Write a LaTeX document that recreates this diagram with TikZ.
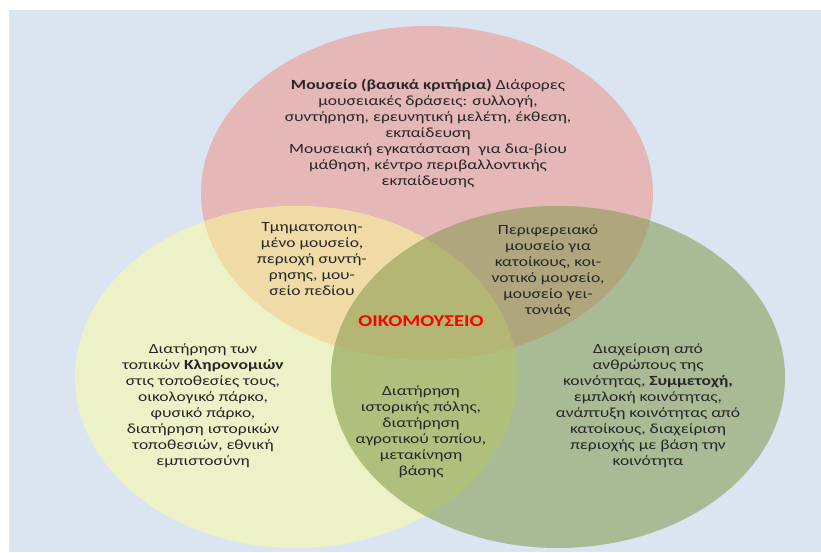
\documentclass[tikz,border=0pt]{standalone}
\usepackage{fontspec}
\setmainfont{Carlito}[FakeStretch=1.25]
\definecolor{bgblue}{RGB}{219,229,241}
\definecolor{cred}{RGB}{229,184,183}
\definecolor{cyel}{RGB}{236,241,199}
\definecolor{cgrn}{RGB}{169,187,148}
\definecolor{cry}{RGB}{240,219,167}
\definecolor{crg}{RGB}{176,166,125}
\definecolor{cyg}{RGB}{175,192,125}
\definecolor{cryg}{RGB}{180,183,115}
\begin{document}
\begin{tikzpicture}[x=1pt, y=-1pt, font=\fontsize{14}{16}\selectfont, line cap=round, line join=round,
  txt/.style={align=center, inner sep=0pt, text=black!85}]
	\useasboundingbox (0,0) rectangle (821,552);
	\fill[bgblue] (9,10) rectangle (821,552);
	\coordinate (R) at (427,193);
	\coordinate (Y) at (296,377);
	\coordinate (G) at (558,377);
	% the three circles
	\fill[cred] (R) ellipse [x radius=226, y radius=167];
	\fill[cyel] (Y) ellipse [x radius=221, y radius=171];
	\fill[cgrn] (G) ellipse [x radius=227, y radius=171];
	% overlaps
	\begin{scope}
		\clip (R) ellipse [x radius=226, y radius=167];
		\fill[cry] (Y) ellipse [x radius=221, y radius=171];
		\fill[crg] (G) ellipse [x radius=227, y radius=171];
	\end{scope}
	\begin{scope}
		\clip (Y) ellipse [x radius=221, y radius=171];
		\fill[cyg] (G) ellipse [x radius=227, y radius=171];
		\clip (G) ellipse [x radius=227, y radius=171];
		\fill[cryg] (R) ellipse [x radius=226, y radius=167];
	\end{scope}
	% texts
	\node[txt] (mus) at (428,133) {\textbf{Μουσείο (βασικά κριτήρια)} Διάφορες\\ μουσειακές δράσεις: συλλογή,\\ συντήρηση, ερευνητική μελέτη, έκθεση,\\ εκπαίδευση\\ Μουσειακή εγκατάσταση~ για δια-βίου\\ μάθηση, κέντρο περιβαλλοντικής\\ εκπαίδευσης};
	\node[txt] (tmi) at (312,259) {Τμηματοποιη-\\ μένο μουσείο,\\ περιοχή συντή-\\ ρησης, μου-\\ σείο πεδίου};
	\node[txt] (per) at (548,271) {Περιφερειακό\\ μουσείο για\\ κατοίκους, κοι-\\ νοτικό μουσείο,\\ μουσείο γει-\\ τονιάς};
	\node[txt, text=red, font=\fontsize{16.5}{18}\selectfont\bfseries] (oiko) at (421,321) {ΟΙΚΟΜΟΥΣΕΙΟ};
	\node[txt] (kle) at (203,406) {Διατήρηση των\\ τοπικών \textbf{Κληρονομιών}\\ στις τοποθεσίες τους,\\ οικολογικό πάρκο,\\ φυσικό πάρκο,\\ διατήρηση ιστορικών\\ τοποθεσιών, εθνική\\ εμπιστοσύνη};
	\node[txt] (koi) at (648,406) {Διαχείριση από\\ ανθρώπους της\\ κοινότητας, \textbf{Συμμετοχή,}\\ εμπλοκή κοινότητας,\\ ανάπτυξη κοινότητας από\\ κατοίκους, διαχείριση\\ περιοχής με βάση την\\ κοινότητα};
	\node[txt] (ist) at (421,432) {Διατήρηση\\ ιστορικής πόλης,\\ διατήρηση\\ αγροτικού τοπίου,\\ μετακίνηση\\ βάσης};
\end{tikzpicture}
\end{document}
